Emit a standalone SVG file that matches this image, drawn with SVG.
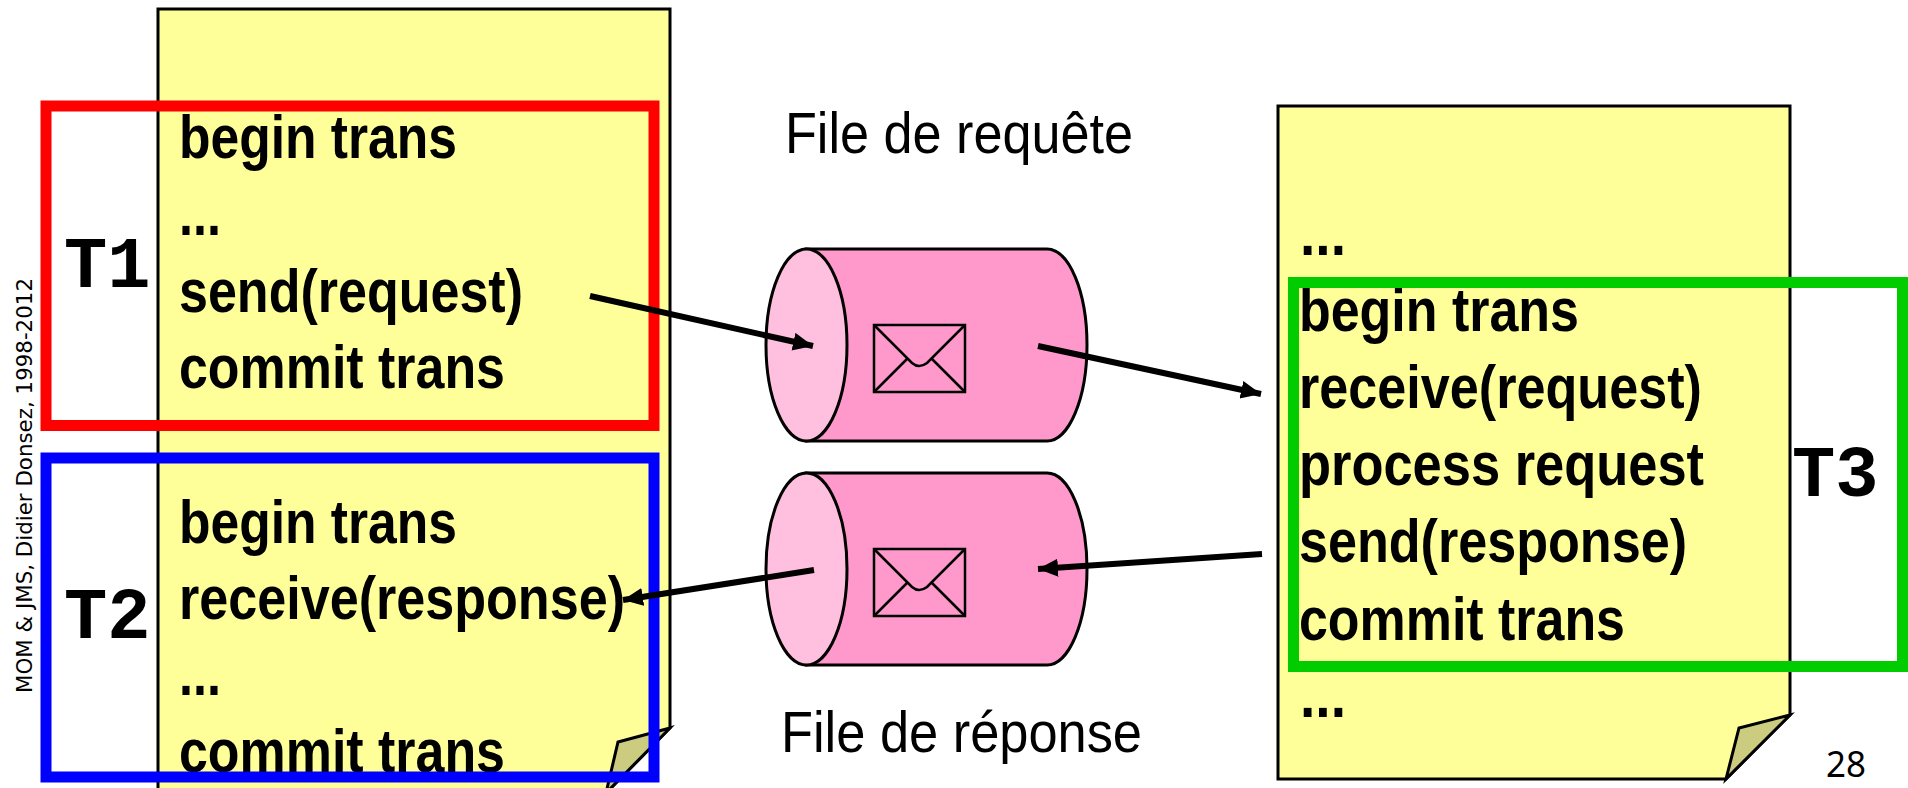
<svg xmlns="http://www.w3.org/2000/svg" width="1908" height="788" viewBox="0 0 1908 788">
<style>
.page{fill:#FFFF99;stroke:#000;stroke-width:3;stroke-linejoin:miter}
.fold{fill:#CCCC80;stroke:#000;stroke-width:3;stroke-linejoin:miter}
.code{font-family:"Liberation Sans",Arial,sans-serif;font-weight:700;font-size:62px;fill:#000}
.tx{font-family:"Liberation Mono","Courier New",monospace;font-weight:700;font-size:72px;fill:#000}
.cap{font-family:"Liberation Sans",Arial,sans-serif;font-size:58px;fill:#000}
.box{fill:none;stroke-width:11}
.body{fill:#FF99CC;stroke:#000;stroke-width:3}
.face{fill:#FFC0E0;stroke:#000;stroke-width:3}
.env{fill:none;stroke:#000;stroke-width:2.5}
.arrow{fill:none;stroke:#000;stroke-width:6;marker-end:url(#head)}
</style>
<defs>
<marker id="head" markerUnits="userSpaceOnUse" markerWidth="24" markerHeight="20" refX="20" refY="9" orient="auto">
<path d="M0,0 L20,9 L0,18 Z" fill="#000"/>
</marker>
<g id="cyl">
<path class="body" d="M806,249 H1047 A40,96 0 0 1 1047,441 H806 Z"/>
<ellipse class="face" cx="806.500" cy="345" rx="40.500" ry="96"/>
<rect class="env" x="874" y="325" width="91" height="67"/>
<path class="env" d="M874,325 L912,363 Q919,369 927,363 L965,325 M874,392 L907,359 M965,392 L932,359"/>
</g>
</defs>
<rect width="1908" height="788" fill="#fff"/>

<g id="client-page">
<path class="page" d="M158,9 H670 V728 L606,793 H158 Z"/>
<path class="fold" d="M670,728 L618,742 L606,793 Z"/>
<text class="code" x="179" y="158" textLength="278" lengthAdjust="spacingAndGlyphs">begin trans</text>
<text class="code" x="179" y="235" textLength="42" lengthAdjust="spacingAndGlyphs">...</text>
<text class="code" x="179" y="312" textLength="344" lengthAdjust="spacingAndGlyphs">send(request)</text>
<text class="code" x="179" y="388" textLength="326" lengthAdjust="spacingAndGlyphs">commit trans</text>
<text class="code" x="179" y="543" textLength="278" lengthAdjust="spacingAndGlyphs">begin trans</text>
<text class="code" x="179" y="619" textLength="446" lengthAdjust="spacingAndGlyphs">receive(response)</text>
<text class="code" x="179" y="695" textLength="42" lengthAdjust="spacingAndGlyphs">...</text>
<text class="code" x="179" y="772" textLength="326" lengthAdjust="spacingAndGlyphs">commit trans</text>
</g>

<g id="t1">
<rect class="box" stroke="#FF0000" x="46" y="106" width="608" height="319.500"/>
<text class="tx" x="64" y="287">T1</text>
</g>
<g id="t2">
<rect class="box" stroke="#0000FF" x="46" y="458" width="608" height="319"/>
<text class="tx" x="64" y="638">T2</text>
</g>

<g id="request-queue">
<use href="#cyl"/>
<text class="cap" x="785" y="153" textLength="348" lengthAdjust="spacingAndGlyphs">File de requête</text>
</g>
<g id="response-queue">
<use href="#cyl" y="224"/>
<text class="cap" x="781" y="752" textLength="361" lengthAdjust="spacingAndGlyphs">File de réponse</text>
</g>

<g id="server-page">
<path class="page" d="M1278,106 H1790 V715 L1726,779 H1278 Z"/>
<path class="fold" d="M1790,715 L1739,728 L1726,779 Z"/>
<text class="code" x="1300" y="255" textLength="46" lengthAdjust="spacingAndGlyphs">...</text>
<text class="code" x="1299" y="331" textLength="280" lengthAdjust="spacingAndGlyphs">begin trans</text>
<text class="code" x="1299" y="408" textLength="403" lengthAdjust="spacingAndGlyphs">receive(request)</text>
<text class="code" x="1299" y="485" textLength="405" lengthAdjust="spacingAndGlyphs">process request</text>
<text class="code" x="1299" y="562" textLength="388" lengthAdjust="spacingAndGlyphs">send(response)</text>
<text class="code" x="1299" y="640" textLength="326" lengthAdjust="spacingAndGlyphs">commit trans</text>
<text class="code" x="1300" y="717" textLength="46" lengthAdjust="spacingAndGlyphs">...</text>
</g>

<g id="t3">
<rect class="box" stroke="#00CC00" x="1293.500" y="282.500" width="609" height="384"/>
<text class="tx" x="1792" y="496">T3</text>
</g>

<g id="connectors">
<line class="arrow" x1="590" y1="296" x2="813" y2="346"/>
<line class="arrow" x1="1038" y1="346" x2="1261" y2="394"/>
<line class="arrow" x1="1262" y1="554" x2="1038" y2="569"/>
<line class="arrow" x1="814" y1="570" x2="623" y2="600"/>
</g>

<g id="footer">
<text transform="translate(32,693) rotate(-90)" font-family="'DejaVu Sans',sans-serif" font-size="22" fill="#000" textLength="415" lengthAdjust="spacingAndGlyphs">MOM &amp; JMS, Didier Donsez, 1998-2012</text>
<text x="1826" y="777" font-family="'Noto Sans',sans-serif" font-size="36" fill="#000" textLength="40" lengthAdjust="spacingAndGlyphs">28</text>
</g>
</svg>
